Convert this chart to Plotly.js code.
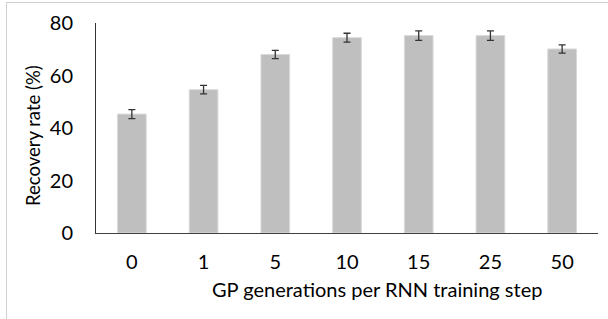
<!DOCTYPE html>
<html>
<head>
<meta charset="utf-8">
<script src="https://cdn.plot.ly/plotly-3.0.1.min.js"></script>
<style>
  html, body { margin: 0; padding: 0; background: #fff; }
  #wrap { position: relative; width: 608px; height: 319px; }
  #frame { position: absolute; left: 6px; top: 2px; width: 700px; height: 400px;
           border-top: 1px solid #d0d0d0; border-left: 1px solid #d0d0d0; pointer-events: none; }
  #chart { position: absolute; left: 0; top: 0; width: 608px; height: 319px; }
</style>
</head>
<body>
<div id="wrap">
  <div id="chart"></div>
  <div id="frame"></div>
</div>
<script>
const categories = ["0", "1", "5", "10", "15", "25", "50"];
const recoveryRate = [45.3, 54.6, 68.0, 74.4, 75.2, 75.2, 70.1];
const errorValues = [1.7, 1.6, 1.6, 1.7, 1.8, 1.8, 1.6];
const yTicks = [0, 20, 40, 60, 80];
const xTitle = "GP generations per RNN training step";
const yTitle = "Recovery rate (%)";

const fontFamily = "Lato, 'Open Sans', sans-serif";
const fs = 20;

const trace = {
  type: "bar",
  x: categories,
  y: recoveryRate,
  marker: { color: "#bfbfbf", line: { color: "#d9d9d9", width: 1 } },
  error_y: { type: "data", array: errorValues, visible: true, color: "#333333", thickness: 1.3, width: 3.5 },
  hoverinfo: "none"
};

const layout = {
  width: 608, height: 319,
  margin: { l: 96, r: 10, t: 23, b: 86, pad: 0 },
  paper_bgcolor: "rgba(0,0,0,0)",
  plot_bgcolor: "rgba(0,0,0,0)",
  bargap: 0.6,
  showlegend: false,
  font: { family: fontFamily, size: fs, color: "#000" },
  xaxis: {
    type: "category",
    showgrid: false,
    zeroline: false,
    showline: true,
    linecolor: "#404040",
    linewidth: 1,
    ticks: "",
    ticklabelstandoff: 11,
    tickfont: { family: fontFamily, size: fs, color: "#000" }
  },
  yaxis: {
    range: [0, 80],
    tickvals: yTicks,
    ticktext: yTicks.map(String),
    showgrid: false,
    zeroline: false,
    showline: true,
    linecolor: "#333333",
    linewidth: 1,
    ticks: "",
    ticklabelstandoff: 18,
    tickfont: { family: fontFamily, size: fs, color: "#000" }
  },
  annotations: [
    { text: xTitle, xref: "paper", yref: "paper", x: 0.56, y: 0, xanchor: "center", yanchor: "middle",
      yshift: -56, showarrow: false, font: { family: fontFamily, size: fs, color: "#000" } },
    { text: yTitle, xref: "paper", yref: "paper", x: 0, y: 0.5, xanchor: "center", yanchor: "middle",
      xshift: -63, yshift: -8, textangle: -90, showarrow: false, font: { family: fontFamily, size: 18.5, color: "#000" } }
  ]
};

Plotly.newPlot("chart", [trace], layout, { staticPlot: true, displayModeBar: false });
</script>
</body>
</html>
